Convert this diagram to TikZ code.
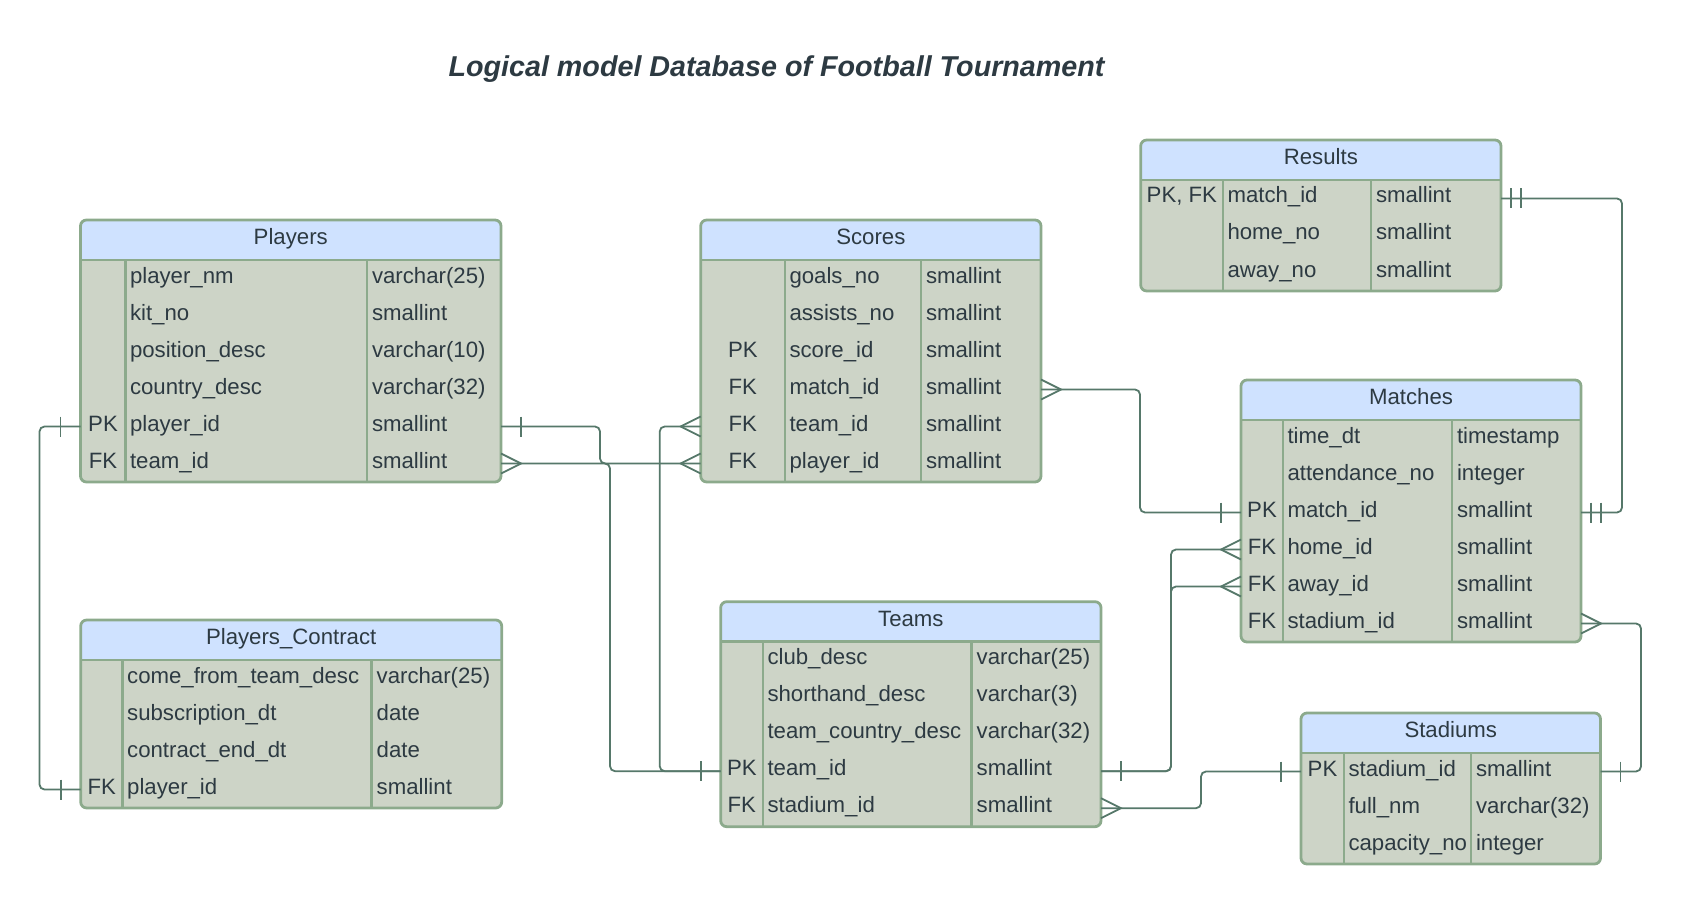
\documentclass[tikz,border=0pt]{standalone}
\usepackage{fontspec}
\setmainfont{Liberation Sans}
\usepackage{tikz}
\usetikzlibrary{calc}

\definecolor{hdrc}{RGB}{207,226,255}
\definecolor{bodyc}{RGB}{205,212,199}
\definecolor{framec}{RGB}{140,170,140}
\definecolor{linkc}{RGB}{86,120,106}
\definecolor{txtc}{RGB}{45,58,66}

\tikzset{
  tableline/.style={draw=framec,line width=2.8pt},
  celltext/.style={text=txtc,inner sep=0pt,outer sep=0pt,text height=14.5pt,text depth=5.5pt,
    font=\fontsize{22.2}{26}\selectfont},
  rowbox/.style={inner sep=0pt,outer sep=0pt,minimum height=37pt},
  link/.style={draw=linkc,line width=1.8pt,rounded corners=5pt},
  endmark/.style={draw=linkc,line width=1.8pt},
}

% name, left, top, width, key column, name column, title, rows
\newcommand{\erdtable}[8]{%
  \foreach \fkey/\fname/\ftype [count=\i] in {#8} {\xdef\nrows{\i}}
  \pgfmathsetmacro\tabh{40+37*\nrows}
  \begin{scope}[shift={(#2,#3)}]
    \begin{scope}
      \clip[rounded corners=6pt] (0,0) rectangle (#4,\tabh);
      \fill[hdrc] (0,0) rectangle (#4,40);
      \fill[bodyc] (0,40) rectangle (#4,\tabh);
    \end{scope}
    \draw[tableline] (0,40) -- (#4,40) (#5,40) -- (#5,\tabh) ({#5+#6},40) -- ({#5+#6},\tabh);
    \draw[tableline,rounded corners=6pt] (0,0) rectangle (#4,\tabh);
    \node[celltext] (#1) at ({#4/2},20) {#7};
    \foreach \fkey/\fname/\ftype [count=\i] in {#8} {
      \node[rowbox,minimum width=#4] (#1-\i) at ({#4/2},{37*\i+21.5}) {};
      \node[celltext] (#1-\i-k) at ({#5/2},{37*\i+21.5}) {\fkey};
      \node[celltext,anchor=west] (#1-\i-n) at ({#5+4.5},{37*\i+21.5}) {\fname};
      \node[celltext,anchor=west] (#1-\i-t) at ({#5+#6+5},{37*\i+21.5}) {\ftype};
    }
  \end{scope}}

\newcommand{\onemark}[2]{\draw[endmark] ($(#1)+(#2*20,-10)$) -- ($(#1)+(#2*20,10)$);}
\newcommand{\onlyonemark}[2]{\onemark{#1}{#2}\draw[endmark] ($(#1)+(#2*10,-10)$) -- ($(#1)+(#2*10,10)$);}
\newcommand{\manymark}[2]{\draw[endmark] ($(#1)+(0,-10)$) -- ($(#1)+(#2*20,0)$) -- ($(#1)+(0,10)$);}

\begin{document}
\begin{tikzpicture}[x=1pt,y=-1pt]
                \path[use as bounding box] (0,0) rectangle (1683,904);

                \node[text=txtc,font=\fontsize{28.7}{34}\selectfont\bfseries\itshape,anchor=base] (title)
                    at (776.5,77) {Logical model Database of Football Tournament};

                \erdtable{players}{80.5}{220}{420.5}{45}{241.5}{Players}{
                    /player\_nm/varchar(25), /kit\_no/smallint, /position\_desc/varchar(10),
                    /country\_desc/varchar(32), PK/player\_id/smallint, FK/team\_id/smallint}
                \erdtable{contract}{80.7}{620}{421}{42}{249}{Players\_Contract}{
                    /come\_from\_team\_desc/varchar(25), /subscription\_dt/date,
                    /contract\_end\_dt/date, FK/player\_id/smallint}
                \erdtable{scores}{700.7}{220}{340.3}{84.3}{136}{Scores}{
                    /goals\_no/smallint, /assists\_no/smallint, PK/score\_id/smallint,
                    FK/match\_id/smallint, FK/team\_id/smallint, FK/player\_id/smallint}
                \erdtable{results}{1140.7}{140}{360.3}{82.3}{148}{Results}{
                    {PK, FK}/match\_id/smallint, /home\_no/smallint, /away\_no/smallint}
                \erdtable{matches}{1241}{380}{340}{42}{169}{Matches}{
                    /time\_dt/timestamp, /attendance\_no/integer, PK/match\_id/smallint,
                    FK/home\_id/smallint, FK/away\_id/smallint, FK/stadium\_id/smallint}
                \erdtable{teams}{720.7}{601.7}{380.3}{42.3}{208.7}{Teams}{
                    /club\_desc/varchar(25), /shorthand\_desc/varchar(3),
                    /team\_country\_desc/varchar(32), PK/team\_id/smallint, FK/stadium\_id/smallint}
                \erdtable{stadiums}{1301}{713}{299.5}{43}{127}{Stadiums}{
                    PK/stadium\_id/smallint, /full\_nm/varchar(32), /capacity\_no/integer}

                \draw[link] (players-5.east) -- ++(99,0) |- (scores-6.west);
                \draw[link] (players-6.east) -- ++(109,0) |- (teams-4.west);
                \draw[link] (teams-4.west) -- ++(-61,0) |- (scores-5.west);
                \draw[link] (players-5.west) -- ++(-41,0) |- (contract-4.west);
                \draw[link] (scores-4.east) -- ++(99,0) |- (matches-3.west);
                \draw[link] (results-1.east) -- ++(121,0) |- (matches-3.east);
                \draw[link] (teams-4.east) -- ++(70,0) |- (matches-4.west);
                \draw[link] (teams-4.east) -- ++(70,0) |- (matches-5.west);
                \draw[link] (teams-5.east) -- ++(100,0) |- (stadiums-1.west);
                \draw[link] (matches-6.east) -- ++(60,0) |- (stadiums-1.east);

                \onemark{players-5.east}{1} \manymark{scores-6.west}{-1}
                \manymark{players-6.east}{1} \onemark{teams-4.west}{-1}
                \manymark{scores-5.west}{-1}
                \onemark{players-5.west}{-1} \onemark{contract-4.west}{-1}
                \manymark{scores-4.east}{1} \onemark{matches-3.west}{-1}
                \onlyonemark{results-1.east}{1} \onlyonemark{matches-3.east}{1}
                \onemark{teams-4.east}{1} \manymark{matches-4.west}{-1} \manymark{matches-5.west}{-1}
                \manymark{teams-5.east}{1} \onemark{stadiums-1.west}{-1}
                \manymark{matches-6.east}{1} \onemark{stadiums-1.east}{1}
\end{tikzpicture}
\end{document}
